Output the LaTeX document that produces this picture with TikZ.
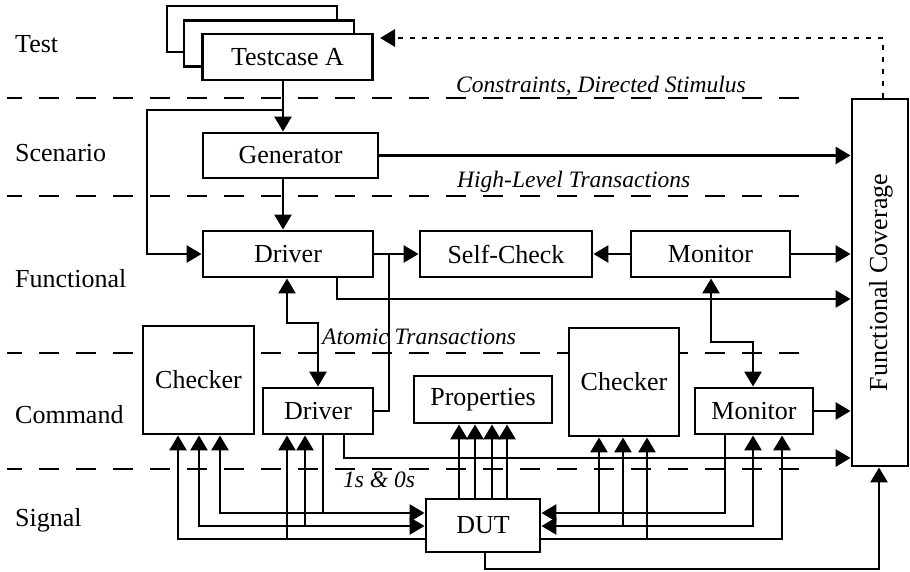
\documentclass[tikz,border=0pt]{standalone}
\usepackage{fontspec}
\setmainfont{Liberation Serif}
\usetikzlibrary{arrows.meta,calc}
\begin{document}
\begin{tikzpicture}[x=1pt,y=-1pt,
  box/.style={draw, line width=2.9pt, fill=white, inner sep=0pt,
    font=\fontsize{26}{30}\selectfont},
  wire/.style={line width=2.9pt},
  arr/.style={-{Triangle[length=15pt,width=17pt]}},
  revarr/.style={{Triangle[length=15pt,width=17pt]}-},
  biarr/.style={{Triangle[length=15pt,width=17pt]}-{Triangle[length=15pt,width=17pt]}},
  layerline/.style={line width=2.9pt, dash pattern=on 20pt off 17pt, dash phase=5pt},
  dotwire/.style={line width=2.9pt, dash pattern=on 5pt off 7pt},
  lab/.style={anchor=base west, inner sep=0pt, font=\fontsize{26}{30}\selectfont},
  ilab/.style={anchor=base west, inner sep=0pt, font=\fontsize{23.5}{28}\selectfont\itshape}]
\useasboundingbox (0,0) rectangle (910,572);

% layer separators
\foreach \y in {98,196,353,469}
  \draw[layerline] (7,\y) -- (815,\y);

% stacked test cases
\node[box, minimum width=170pt, minimum height=46pt] (tc3) at (252,29) {};
\node[box, minimum width=170pt, minimum height=46pt] (tc2) at (269,43.5) {};
\node[box, minimum width=170pt, minimum height=46pt] (tcA) at (287.5,57) {Testcase A};

% blocks
\node[box, minimum width=175pt, minimum height=45pt] (gen)  at (290.5,155.5) {Generator};
\node[box, minimum width=170pt, minimum height=46pt] (drvF) at (288,254) {Driver};
\node[box, minimum width=172pt, minimum height=46pt] (self) at (506,254) {Self-Check};
\node[box, minimum width=159pt, minimum height=46pt] (monF) at (710.5,254) {Monitor};
\node[box, minimum width=56pt, minimum height=367pt] (fc) at (880,282.5) {};
\node[rotate=90, inner sep=0pt, font=\fontsize{26}{30}\selectfont] (fcText) at (881,282.5) {Functional Coverage};
\node[box, minimum width=111pt, minimum height=108pt] (chkL) at (198.5,380) {Checker};
\node[box, minimum width=110pt, minimum height=46pt] (drvC) at (318,411) {Driver};
\node[box, minimum width=138pt, minimum height=47pt] (prop) at (483,399.5) {Properties};
\node[box, minimum width=110pt, minimum height=108pt] (chkR) at (624,382) {Checker};
\node[box, minimum width=118pt, minimum height=46pt] (monC) at (754,411) {Monitor};
\node[box, minimum width=114pt, minimum height=53pt] (dut)  at (483,525.5) {DUT};

% lanes and levels used by the wiring
\foreach \n/\x in {a/283, l/147, s/389, da/337, db/287, dc/318, ma/711, mb/753,
    cv/883, du/485, fb/879, ca/178, cb/199, cc/220, va/287, vb/305, vc/323,
    ka/599, kb/623, kc/647, na/725, nb/753, nc/782, dd/344}
  \coordinate (x\n) at (\x,0);
\foreach \n/\y in {t/110, f/299, a/323, b/342, c/458, top/38, bot/569,
    sa/513, sb/526, sc/539}
  \coordinate (y\n) at (0,\y);
\coordinate (jt) at (283,110);
\coordinate (tcHook) at (380,38);

% test and scenario wiring
\draw[wire,arr] (tcA.south -| xa) -- (gen.north -| xa);
\draw[wire,arr] (jt) -- (jt -| xl) |- (drvF.west);
\draw[wire,arr] (gen.south -| xa) -- (drvF.north -| xa);
\draw[wire,arr] (gen.east) -- (gen.east -| fc.west);

% functional wiring
\draw[wire,arr] (drvF.east) -- (self.west);
\draw[wire] (drvC.east) -| (drvF.east -| xs);
\draw[wire,arr] (drvF.south -| xda) |- (fc.west |- yf);
\draw[wire,biarr] (drvF.south -| xdb) |- (xdc |- ya) -- (drvC.north -| xdc);
\draw[wire,arr] (monF.west) -- (self.east);
\draw[wire,arr] (monF.east) -- (monF.east -| fc.west);
\draw[wire,biarr] (monF.south -| xma) |- (xmb |- yb) -- (monC.north -| xmb);

% command wiring
\draw[wire,arr] (monC.east) -- (monC.east -| fc.west);
\draw[wire,arr] (drvC.south -| xdd) |- (fc.west |- yc);
\draw[dotwire,arr] (fc.north -| xcv) |- (tcHook);

% signal wiring
\draw[wire,arr] (dut.south -| xdu) |- (xfb |- ybot) -- (fc.south -| xfb);
\foreach \x in {459,475,492,507}{
  \coordinate (px) at (\x,0);
  \draw[wire,arr] (dut.north -| px) -- (prop.south -| px);
}
\draw[wire,biarr] (chkL.south -| xcc) |- (dut.west |- ysa);
\draw[wire] (drvC.south -| xvc) -- (xvc |- ysa);
\draw[wire,biarr] (chkL.south -| xcb) |- (dut.west |- ysb);
\draw[wire,revarr] (drvC.south -| xvb) -- (xvb |- ysb);
\draw[wire,revarr] (chkL.south -| xca) |- (dut.west |- ysc);
\draw[wire,revarr] (drvC.south -| xva) -- (xva |- ysc);

\draw[wire,arr] (monC.south -| xna) |- (dut.east |- ysa);
\draw[wire,revarr] (chkR.south -| xka) -- (xka |- ysa);
\draw[wire,biarr] (monC.south -| xnb) |- (dut.east |- ysb);
\draw[wire,revarr] (chkR.south -| xkb) -- (xkb |- ysb);
\draw[wire,revarr] (monC.south -| xnc) |- (dut.east |- ysc);
\draw[wire,revarr] (chkR.south -| xkc) -- (xkc |- ysc);

% layer names
\node[lab] (lTest) at (15,53) {Test};
\node[lab] (lScen) at (15,162) {Scenario};
\node[lab] (lFunc) at (15,287) {Functional};
\node[lab] (lCmd)  at (15,423) {Command};
\node[lab] (lSig)  at (15,526) {Signal};

% traffic between layers
\node[ilab] (tConstr) at (456,93) {Constraints, Directed Stimulus};
\node[ilab] (tHigh)   at (457,188) {High-Level Transactions};
\node[ilab] (tAtom)   at (322,344) {Atomic Transactions};
\node[ilab] (tBits)   at (343,487) {1s \& 0s};
\end{tikzpicture}
\end{document}
